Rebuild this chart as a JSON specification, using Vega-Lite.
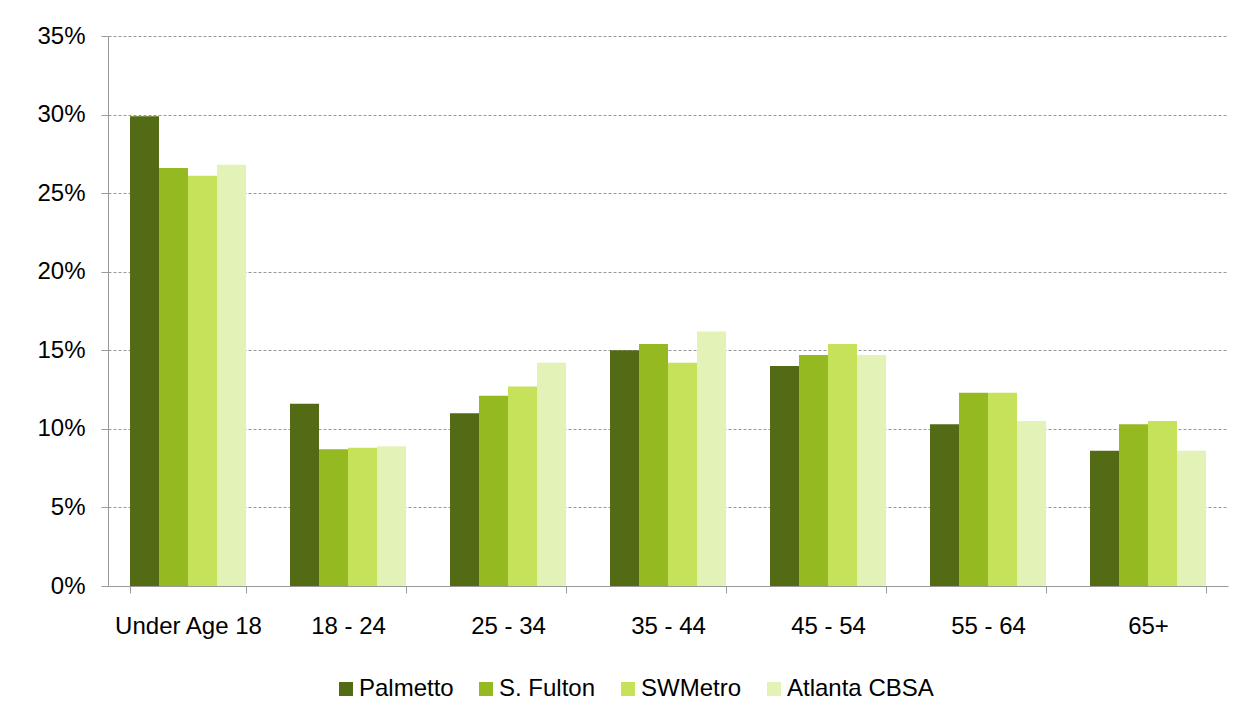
{
  "$schema": "https://vega.github.io/schema/vega-lite/v6.json",
  "width": 1120,
  "height": 550,
  "autosize": "none",
  "padding": {"left": 108, "top": 36, "right": 26, "bottom": 135},
  "background": "white",
  "config": {
    "view": {"stroke": null},
    "font": "Liberation Sans",
    "axis": {"labelFont": "Liberation Sans", "labelColor": "#000", "titleFont": "Liberation Sans"},
    "legend": {"labelFont": "Liberation Sans"}
  },
  "data": {
    "values": [
      {"age": "Under Age 18", "area": "Palmetto", "v": 0.299},
      {"age": "Under Age 18", "area": "S. Fulton", "v": 0.266},
      {"age": "Under Age 18", "area": "SWMetro", "v": 0.261},
      {"age": "Under Age 18", "area": "Atlanta CBSA", "v": 0.268},
      {"age": "18 - 24", "area": "Palmetto", "v": 0.116},
      {"age": "18 - 24", "area": "S. Fulton", "v": 0.087},
      {"age": "18 - 24", "area": "SWMetro", "v": 0.088},
      {"age": "18 - 24", "area": "Atlanta CBSA", "v": 0.089},
      {"age": "25 - 34", "area": "Palmetto", "v": 0.110},
      {"age": "25 - 34", "area": "S. Fulton", "v": 0.121},
      {"age": "25 - 34", "area": "SWMetro", "v": 0.127},
      {"age": "25 - 34", "area": "Atlanta CBSA", "v": 0.142},
      {"age": "35 - 44", "area": "Palmetto", "v": 0.150},
      {"age": "35 - 44", "area": "S. Fulton", "v": 0.154},
      {"age": "35 - 44", "area": "SWMetro", "v": 0.142},
      {"age": "35 - 44", "area": "Atlanta CBSA", "v": 0.162},
      {"age": "45 - 54", "area": "Palmetto", "v": 0.140},
      {"age": "45 - 54", "area": "S. Fulton", "v": 0.147},
      {"age": "45 - 54", "area": "SWMetro", "v": 0.154},
      {"age": "45 - 54", "area": "Atlanta CBSA", "v": 0.147},
      {"age": "55 - 64", "area": "Palmetto", "v": 0.103},
      {"age": "55 - 64", "area": "S. Fulton", "v": 0.123},
      {"age": "55 - 64", "area": "SWMetro", "v": 0.123},
      {"age": "55 - 64", "area": "Atlanta CBSA", "v": 0.105},
      {"age": "65+", "area": "Palmetto", "v": 0.086},
      {"age": "65+", "area": "S. Fulton", "v": 0.103},
      {"age": "65+", "area": "SWMetro", "v": 0.105},
      {"age": "65+", "area": "Atlanta CBSA", "v": 0.086}
    ]
  },
  "mark": {"type": "bar"},
  "encoding": {
    "x": {
      "field": "age",
      "type": "nominal",
      "sort": null,
      "scale": {"paddingInner": 0.275, "paddingOuter": 0.1375},
      "axis": {
        "title": null,
        "labelAngle": 0,
        "labelFontSize": 24,
        "labelPadding": 21,
        "tickBand": "extent",
        "tickSize": 7,
        "tickColor": "#999",
        "domainColor": "#999",
        "grid": false
      }
    },
    "xOffset": {
      "field": "area",
      "type": "nominal",
      "sort": ["Palmetto", "S. Fulton", "SWMetro", "Atlanta CBSA"],
      "scale": {"paddingInner": 0, "paddingOuter": 0}
    },
    "y": {
      "field": "v",
      "type": "quantitative",
      "scale": {"domain": [0, 0.35], "nice": false},
      "axis": {
        "title": null,
        "format": ".0%",
        "values": [0, 0.05, 0.1, 0.15, 0.2, 0.25, 0.3, 0.35],
        "labelFontSize": 24,
        "labelPadding": 16,
        "tickSize": 7,
        "tickColor": "#999",
        "domainColor": "#999",
        "grid": true,
        "gridColor": "#999",
        "gridDash": [3, 2],
        "gridWidth": 1
      }
    },
    "color": {
      "field": "area",
      "type": "nominal",
      "sort": ["Palmetto", "S. Fulton", "SWMetro", "Atlanta CBSA"],
      "scale": {
        "domain": ["Palmetto", "S. Fulton", "SWMetro", "Atlanta CBSA"],
        "range": ["#536B14", "#95B920", "#C5E25A", "#E3F2B6"]
      },
      "legend": {
        "title": null,
        "orient": "none",
        "legendX": 226,
        "legendY": 641,
        "direction": "horizontal",
        "symbolType": "square",
        "symbolSize": 196,
        "symbolStrokeWidth": 0,
        "labelFontSize": 24,
        "labelColor": "#000",
        "labelOffset": 1,
        "columnPadding": 20
      }
    }
  }
}
